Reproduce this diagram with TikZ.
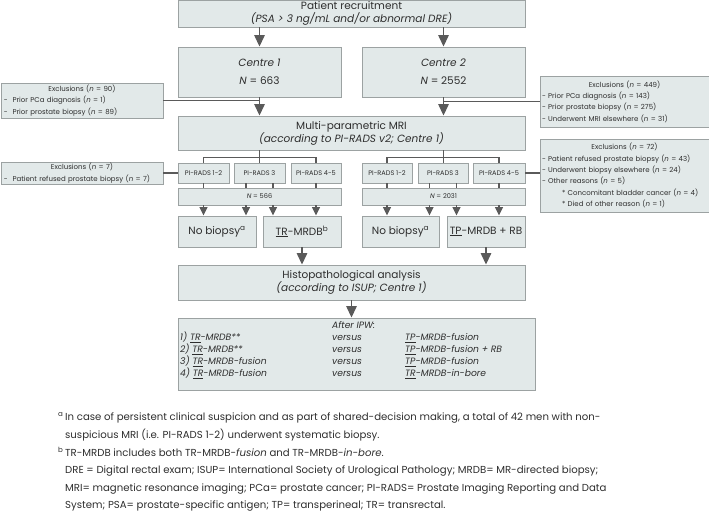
\documentclass[tikz,border=0pt]{standalone}
\usepackage{fontspec}
\setmainfont{Poppins}
\usetikzlibrary{arrows.meta}
\definecolor{boxfill}{HTML}{E2E9E9}
\definecolor{boxline}{HTML}{9CA2A2}
\definecolor{conn}{HTML}{5A5A5A}
\definecolor{txt}{HTML}{2E2E2E}
\newcommand\mkbox[7][]{\node[box,minimum width={(#5-#3)*1pt},minimum height={(#6-#4)*1pt},#1] (#2) at ({(#3+#5)/2},{(#4+#6)/2}) {#7};}
\newcommand\bigtxt{\fontsize{10.5}{13}\selectfont}
\newcommand\smltxt{\fontsize{6.6}{11}\selectfont}
\newcommand\exctxt{\fontsize{7.0}{11.3}\selectfont}
\newcommand\fntxt{\fontsize{10.15}{12}\selectfont}
\begin{document}
\begin{tikzpicture}[x=1pt,y=-1pt,
 box/.style={draw=boxline, fill=boxfill, line width=0.9pt, inner sep=0pt, text=txt, align=center},
 excl/.style={align=left, font=\exctxt},
 link/.style={draw=conn, line width=1.4pt},
 arr/.style={link, -{Triangle[width=10.5pt,length=11.5pt]}},
 sarr/.style={link, -{Triangle[width=8pt,length=8.5pt]}},
 lbl/.style={text=txt, inner sep=0pt},
]
\useasboundingbox (0,0) rectangle (709,514);
% top
\mkbox[font=\bigtxt]{rec}{178}{0}{525}{27}{Patient recruitment\\\textit{(PSA > 3 ng/mL and/or abnormal DRE)}}
\mkbox[font=\fontsize{10.5}{18}\selectfont]{c1}{178}{47}{341}{97}{\textit{Centre 1}\\\textit{N} = 663}
\mkbox[font=\fontsize{10.5}{18}\selectfont]{c2}{362}{47}{525}{97}{\textit{Centre 2}\\\textit{N} = 2552}
\mkbox[excl,text width=156pt]{ex1}{1}{83}{163}{118}{\makebox[156pt]{Exclusions (\textit{n} = 90)}\\- \ Prior PCa diagnosis (\textit{n} = 1)\\- \ Prior prostate biopsy (\textit{n} = 89)}
\mkbox[excl,text width=165pt]{ex2}{540}{76}{709}{127}{\makebox[165pt]{Exclusions (\textit{n} = 449)}\\- Prior PCa diagnosis (\textit{n} = 143)\\- Prior prostate biopsy (\textit{n} = 275)\\- Underwent MRI elsewhere (\textit{n} = 31)}
\mkbox[font=\bigtxt]{mri}{178}{116}{525}{150}{Multi-parametric MRI\\\textit{(according to PI-RADS v2; Centre 1)}}
% PI-RADS
\mkbox[font=\smltxt]{p1a}{178}{163}{229}{183}{PI-RADS 1-2}
\mkbox[font=\smltxt]{p1b}{234}{163}{285}{183}{PI-RADS 3}
\mkbox[font=\smltxt]{p1c}{291}{163}{341}{183}{PI-RADS 4-5}
\mkbox[font=\smltxt]{p2a}{362}{163}{412}{183}{PI-RADS 1-2}
\mkbox[font=\smltxt]{p2b}{418}{163}{468}{183}{PI-RADS 3}
\mkbox[font=\smltxt]{p2c}{473}{163}{525}{183}{PI-RADS 4-5}
\mkbox[excl,text width=156pt]{ex3}{1}{162}{163}{184}{\makebox[156pt]{Exclusions (\textit{n} = 7)}\\- \ Patient refused prostate biopsy (\textit{n} = 7)}
\mkbox[excl,text width=165pt]{ex4}{540}{139}{709}{212}{\makebox[165pt]{Exclusions (\textit{n} = 72)}\\- Patient refused prostate biopsy (\textit{n} = 43)\\- Underwent biopsy elsewhere (\textit{n} = 24)\\- Other reasons (\textit{n} = 5)\\\hspace*{20pt}* Concomitant bladder cancer (\textit{n} = 4)\\\hspace*{20pt}* Died of other reason (\textit{n} = 1)}
\mkbox[font=\smltxt]{n1}{178}{188}{341}{205}{\textit{N} = 566}
\mkbox[font=\smltxt]{n2}{362}{188}{525}{205}{\textit{N} = 2031}
\mkbox[font=\bigtxt]{nb1}{178}{216}{256}{247}{No biopsy\textsuperscript{a}}
\mkbox[font=\bigtxt]{tr}{263}{216}{341}{247}{\underline{TR}-MRDB\textsuperscript{b}}
\mkbox[font=\bigtxt]{nb2}{362}{216}{439}{247}{No biopsy\textsuperscript{a}}
\mkbox[font=\bigtxt]{tp}{447}{216}{525}{247}{\underline{TP}-MRDB + RB}
\mkbox[font=\bigtxt]{hist}{178}{265}{525}{300}{Histopathological analysis\\\textit{(according to ISUP; Centre 1)}}
\mkbox{ipw}{178}{318}{535}{390}{}
\node[lbl, anchor=north west, font=\fontsize{9.2}{11.6}\selectfont\itshape, align=left] (ipwt) at (180,320)
 {\begin{tabular}{@{}p{152pt}@{}p{73pt}@{}l@{}}
  & After IPW: & \\
  1) \underline{TR}-MRDB** & versus & \underline{TP}-MRDB-fusion\\
  2) \underline{TR}-MRDB** & versus & \underline{TP}-MRDB-fusion + RB\\
  3) \underline{TR}-MRDB-fusion & versus & \underline{TP}-MRDB-fusion\\
  4) \underline{TR}-MRDB-fusion & versus & \underline{TR}-MRDB-in-bore
 \end{tabular}};
% connectors
\draw[arr] (c1 |- rec.south) -- (c1.north);
\draw[arr] (c2 |- rec.south) -- (c2.north);
\draw[arr] (c1.south) -- (c1.south |- mri.north);
\draw[arr] (c2.south) -- (c2.south |- mri.north);
\draw[link] (ex1.east) -- (ex1.east -| c1.south);
\draw[link] (ex2.west) -- (ex2.west -| c2.south);
\draw[link] (c1.south |- mri.south) -- ++(0,7) coordinate (m1);
\draw[link] (p1a.north) |- (m1) -| (p1c.north);
\draw[link] (m1) -- (m1 |- p1b.north);
\draw[link] (c2.south |- mri.south) -- ++(0,7) coordinate (m2);
\draw[link] (p2a.north) |- (m2) -| (p2c.north);
\draw[link] (m2) -- (m2 |- p2b.north);
\draw[link] (ex3.east) -- (p1a.west);
\draw[link] (p2c.east) -- (p2c.east -| ex4.west);
% ticks and small arrows
\foreach \b/\n/\d/\s in {p1a/n1/0/nb1, p1b/n1/-13.5/nb1, p1b/n1/13.5/tr, p1c/n1/0/tr, p2a/n2/0/nb2, p2b/n2/-13.5/nb2, p2b/n2/13.5/tp, p2c/n2/0/tp}{
 \draw[link] ([xshift=\d]\b.south) -- ([xshift=\d]\b.south |- \n.north);
 \draw[sarr] ([xshift=\d]\b.south |- \n.south) -- ([xshift=\d]\b.south |- \s.north);
}
\draw[arr] (tr.south) -- (tr.south |- hist.north);
\draw[arr] (tp.south) -- (tp.south |- hist.north);
\draw[arr] (hist.south) -- (hist.south |- ipw.north);
% footnotes
\node[lbl, anchor=base west] (f1) at (65,420) {\fntxt\llap{\textsuperscript{a}\,}In case of persistent clinical suspicion and as part of shared-decision making, a total of 42 men with non-};
\node[lbl, anchor=base west] (f2) at (65,438) {\fntxt suspicious MRI (i.e. PI-RADS 1-2) underwent systematic biopsy.};
\node[lbl, anchor=base west] (f3) at (65,456) {\fntxt\llap{\textsuperscript{b}\,}TR-MRDB includes both TR-MRDB-\textit{fusion} and TR-MRDB-\textit{in-bore}.};
\node[lbl, anchor=base west] (f4) at (65,473) {\fntxt DRE = Digital rectal exam; ISUP= International Society of Urological Pathology; MRDB= MR-directed biopsy;};
\node[lbl, anchor=base west] (f5) at (65,491) {\fntxt MRI= magnetic resonance imaging; PCa= prostate cancer; PI-RADS= Prostate Imaging Reporting and Data};
\node[lbl, anchor=base west] (f6) at (65,508) {\fntxt System; PSA= prostate-specific antigen; TP= transperineal; TR= transrectal.};
\end{tikzpicture}
\end{document}
